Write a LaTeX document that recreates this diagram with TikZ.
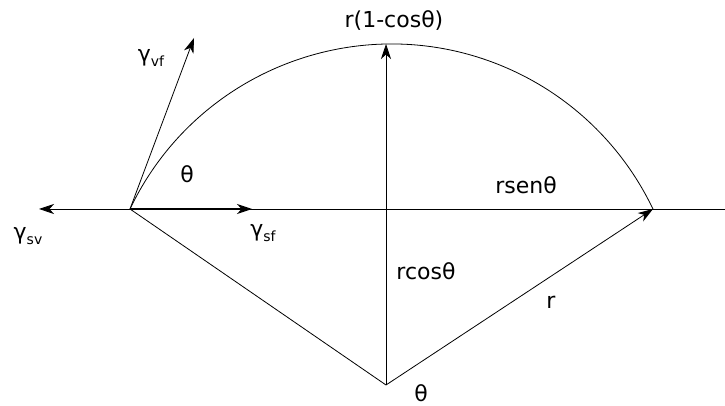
\documentclass[tikz,border=0pt]{standalone}
\usepackage{fontspec}
\setmainfont{DejaVu Sans}
\usetikzlibrary{arrows.meta}
\newcommand{\mysub}[1]{\raisebox{-0.22em}{\fontsize{14}{14}\selectfont #1}}
\begin{document}
\begin{tikzpicture}[x=1pt,y=1pt,
  line/.style={line width=0.8pt},
  vec/.style={line width=0.8pt,-{Stealth[length=15pt,width=10pt,inset=4.5pt]}},
  lbl/.style={font=\fontsize{22}{26}\selectfont, inner sep=0pt}]
\useasboundingbox (0,0) rectangle (725,406);
\coordinate (A) at (130,197);
\coordinate (B) at (653,197);
\coordinate (O) at (386,21);
\coordinate (T) at (386,362);
\coordinate (L) at (39,197);
\coordinate (R) at (725,197);
\coordinate (SF) at (252,197);
\coordinate (VF) at (194,368);
\draw[line] (A) -- (R);
\draw[vec] (A) -- (L);
\draw[vec, line width=1.6pt] (A) -- (SF);
\draw[vec] (A) -- (VF);
\draw[line] (O) -- (A);
\draw[vec] (O) -- (B);
\draw[vec] (O) -- (T);
\draw[line] (A) arc[start angle=154.5, end angle=25.5, radius=289.7pt];
\node[lbl] (tvf) at (151,348) {γ\mysub{vf}};
\node[lbl] (tsv) at (28,170) {γ\mysub{sv}};
\node[lbl] (tsf) at (263,173) {γ\mysub{sf}};
\node[lbl] (th1) at (187,232) {θ};
\node[lbl] (top) at (394,385) {r(1-cosθ)};
\node[lbl] (rsen) at (526,221) {rsenθ};
\node[lbl] (rcos) at (426,135) {rcosθ};
\node[lbl] (rr) at (551,104) {r};
\node[lbl] (th2) at (421,12.5) {θ};
\end{tikzpicture}
\end{document}
